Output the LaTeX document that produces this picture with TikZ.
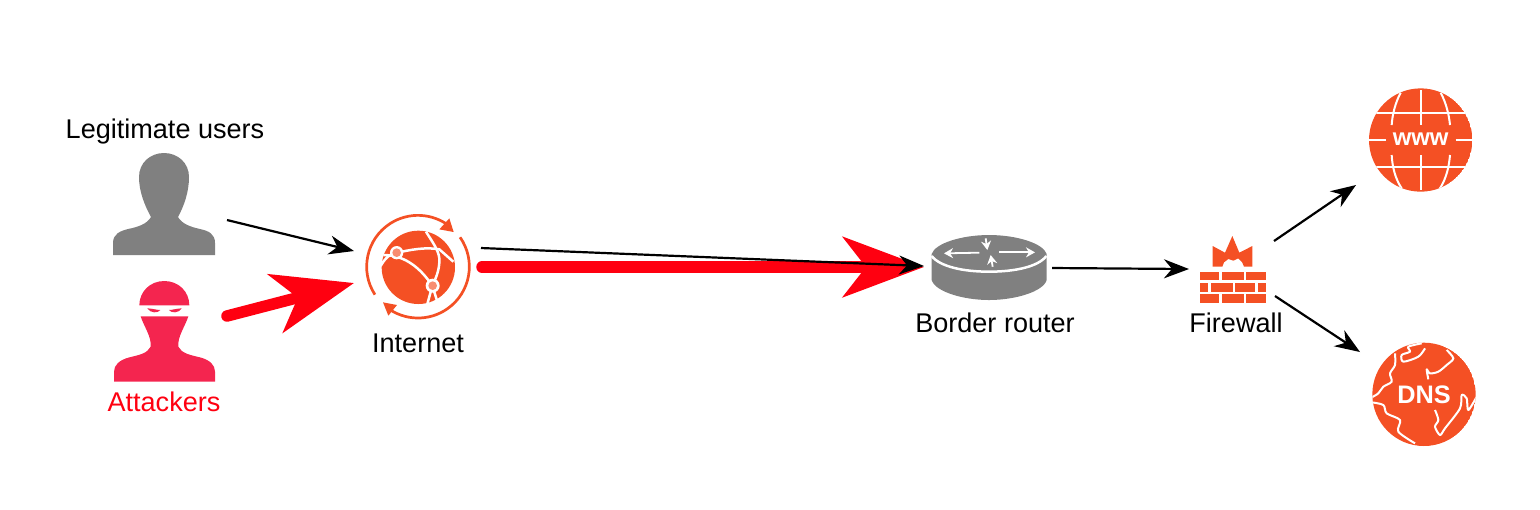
\documentclass[tikz,border=0pt]{standalone}
\usepackage{fontspec}
\setmainfont{Liberation Sans}
\usetikzlibrary{arrows.meta}
\definecolor{icongray}{HTML}{808080}
\definecolor{iconorange}{HTML}{F45024}
\definecolor{iconpink}{HTML}{F4254F}
\definecolor{attackred}{HTML}{FF0010}
\tikzset{
	label/.style={inner sep=0pt,font=\fontsize{7.7}{9}\selectfont},
	badge/.style={inner sep=0pt,text=white,font=\fontsize{#1}{9}\selectfont\bfseries},
	thinflow/.style={-{Stealth[length=2.5mm,width=1.9mm,inset=.8mm]},line width=.22mm,black},
	heavyflow/.style={-{Stealth[length=8.1mm,width=6mm,inset=2.3mm]},line width=1.15mm,line cap=round,attackred},
	coast/.style={white,line width=.2mm,line join=round},
}
\begin{document}
\begin{tikzpicture}[x=.1mm,y=-.1mm]
\useasboundingbox (0,0) rectangle (1540,509);

% labels
\node[label] (users) at (165,131) {Legitimate users};
\node[label,text=attackred] (attackers) at (164,402) {Attackers};
\node[label] (internet) at (418,343) {Internet};
\node[label] (router) at (995,323) {Border router};
\node[label] (firewall) at (1236,323) {Firewall};

% user
\fill[icongray] (113,255) -- (113,243) .. controls (113,234) and (120,231) .. (128,229) .. controls (138,227) and (147,224) .. (151,217) .. controls (145,206) and (139,192) .. (139,177) .. controls (139,163) and (150,153) .. (164,153) .. controls (178,153) and (189,163) .. (189,177) .. controls (189,192) and (184,206) .. (178,217) .. controls (182,224) and (191,227) .. (200,229) .. controls (209,231) and (215,234) .. (215,243) -- (215,255) -- cycle;

% attacker
\begin{scope}[shift={(90,100)},scale=1/3]
\fill[iconpink] (148,616) .. controls (148,575) and (180,543) .. (223,543) .. controls (266,543) and (298,575) .. (298,616) -- cycle;
\fill[iconpink] (172,625) .. controls (185,625) and (200,630) .. (211,630) .. controls (205,640) and (180,640) .. (172,625) -- cycle;
\fill[iconpink] (275,625) .. controls (262,625) and (247,630) .. (237,630) .. controls (243,640) and (267,640) .. (275,625) -- cycle;
\fill[iconpink] (152,649) -- (295,649) .. controls (285,680) and (262,710) .. (265,740) .. controls (275,760) and (300,765) .. (330,772) .. controls (360,780) and (375,795) .. (375,815) -- (375,845) -- (72,845) -- (72,815) .. controls (72,795) and (88,780) .. (118,772) .. controls (148,765) and (172,760) .. (182,740) .. controls (185,710) and (162,680) .. (152,649) -- cycle;
\end{scope}

% internet
\begin{scope}[shift={(350,200)},scale=1/3]
\fill[iconorange] (205,202) circle (110);
\draw[iconorange,line width=.27mm] (204,200) ++(-213:154) arc[start angle=-213,end angle=-52,radius=154];
\draw[iconorange,line width=.27mm] (204,200) ++(-35:154) arc[start angle=-35,end angle=128,radius=154];
\fill[iconorange] (298,55) -- (311,96) -- (268,88) -- cycle;
\fill[iconorange] (99,307) -- (141,315) -- (115,347) -- cycle;
\draw[coast,line width=.25mm] (92,198) .. controls (105,175) and (120,160) .. (140,158) .. controls (180,150) and (225,140) .. (268,148) -- (310,185);
\draw[coast,line width=.25mm] (100,165) .. controls (170,165) and (215,210) .. (247,257);
\draw[coast,line width=.25mm] (228,95) .. controls (250,130) and (265,150) .. (268,175) .. controls (270,210) and (255,240) .. (247,257) -- (232,312);
\draw[coast,line width=.25mm] (247,257) -- (262,305);
\fill[white] (140,158) circle (20);
\fill[white] (248,257) circle (21);
\fill[iconorange!65!white] (140,158) circle (13);
\fill[iconorange!65!white] (248,257) circle (13);
\end{scope}

% router
\begin{scope}[shift={(840,220)},scale=1/3]
\fill[icongray] (275,102) -- (275,180) .. controls (285,215) and (370,240) .. (447,240) .. controls (525,240) and (610,215) .. (620,180) -- (620,102) .. controls (610,70) and (530,45) .. (447,45) .. controls (365,45) and (285,70) .. (275,102) -- cycle;
\draw[white,line width=.25mm] (275,108) .. controls (300,140) and (370,155) .. (447,155) .. controls (525,155) and (595,140) .. (619,108);
\foreach \xa/\ya/\xb/\yb in {418/98/312/100,478/97/585/97,437/55/442/90,458/140/452/105}
	\draw[white,line width=.18mm,-{Stealth[length=.9mm,width=1mm]}] (\xa,\ya) -- (\xb,\yb);
\end{scope}

% firewall
\begin{scope}[shift={(1170,220)},scale=1/3]
\fill[iconorange] (128,78) -- (165,98) -- (187,48) -- (208,98) -- (247,78) -- (247,140) -- (222,140) -- (216,126) -- (205,115) -- (190,122) -- (175,117) -- (162,127) -- (157,140) -- (128,140) -- cycle;
\foreach \y in {155,223}
	\foreach \xa/\xb in {90/148,155/222,228/287}
		\fill[iconorange] (\xa,\y) rectangle (\xb,\y+25);
\foreach \xa/\xb in {90/115,123/188,196/255,263/287}
	\fill[iconorange] (\xa,190) rectangle (\xb,215);
\end{scope}

% www
\begin{scope}[shift={(1350,90)},scale=1/3]
\begin{scope}
\clip (212,150) circle (155);
\fill[iconorange] (212,150) circle (155);
\foreach \y in {70,232}
	\draw[coast] (50,\y) -- (375,\y);
\draw[coast] (212,0) -- (212,105) (212,195) -- (212,300);
\draw[coast] (50,150) -- (107,150) (317,150) -- (375,150);
\draw[coast] (152,8) .. controls (135,40) and (127,75) .. (125,105);
\draw[coast] (272,8) .. controls (289,40) and (297,75) .. (300,105);
\draw[coast] (125,195) .. controls (127,230) and (135,265) .. (155,295);
\draw[coast] (300,195) .. controls (297,230) and (289,265) .. (270,295);
\end{scope}
\node[badge=6.8] (wwwtext) at (212,148) {www};
\end{scope}

% dns
\begin{scope}[shift={(1350,340)},scale=1/3]
\begin{scope}
\clip (222,163) circle (155);
\fill[iconorange] (222,163) circle (155);
\draw[coast,smooth] plot coordinates {(135,40) (135,75) (120,100) (125,125) (100,140) (85,160) (65,172)};
\draw[coast,smooth] plot coordinates {(65,187) (100,195) (110,220) (150,240) (145,275) (195,310)};
\draw[coast,smooth] plot coordinates {(215,10) (175,20) (180,35) (155,45) (160,65) (205,50) (225,25)};
\draw[coast,smooth] plot coordinates {(290,30) (310,55) (290,75) (265,95) (240,100) (230,88) (235,118)};
\draw[coast,smooth] plot coordinates {(255,210) (265,240) (255,260) (270,285) (285,265) (330,205) (335,165) (350,175) (355,210) (380,170)};
\end{scope}
\node[badge=7.2] (dnstext) at (222,163) {DNS};
\end{scope}

% connectors
\coordinate (usersout) at (227,220);
\coordinate (attackersout) at (227,316);
\coordinate (internetin) at (354,251);
\coordinate (internetinred) at (354,283);
\coordinate (internetout) at (481,248);
\coordinate (internetoutred) at (482,267);
\coordinate (routerin) at (924,266);
\coordinate (routerinred) at (924,267);
\coordinate (routerout) at (1052,268);
\coordinate (firewallin) at (1189,269);
\coordinate (firewallup) at (1274,241);
\coordinate (firewalldown) at (1275,296);
\coordinate (wwwin) at (1356,185);
\coordinate (dnsin) at (1360,352);

\draw[heavyflow] (attackersout) -- (internetinred);
\draw[heavyflow] (internetoutred) -- (routerinred);
\draw[thinflow] (usersout) -- (internetin);
\draw[thinflow] (internetout) -- (routerin);
\draw[thinflow] (routerout) -- (firewallin);
\draw[thinflow] (firewallup) -- (wwwin);
\draw[thinflow] (firewalldown) -- (dnsin);
\end{tikzpicture}
\end{document}
